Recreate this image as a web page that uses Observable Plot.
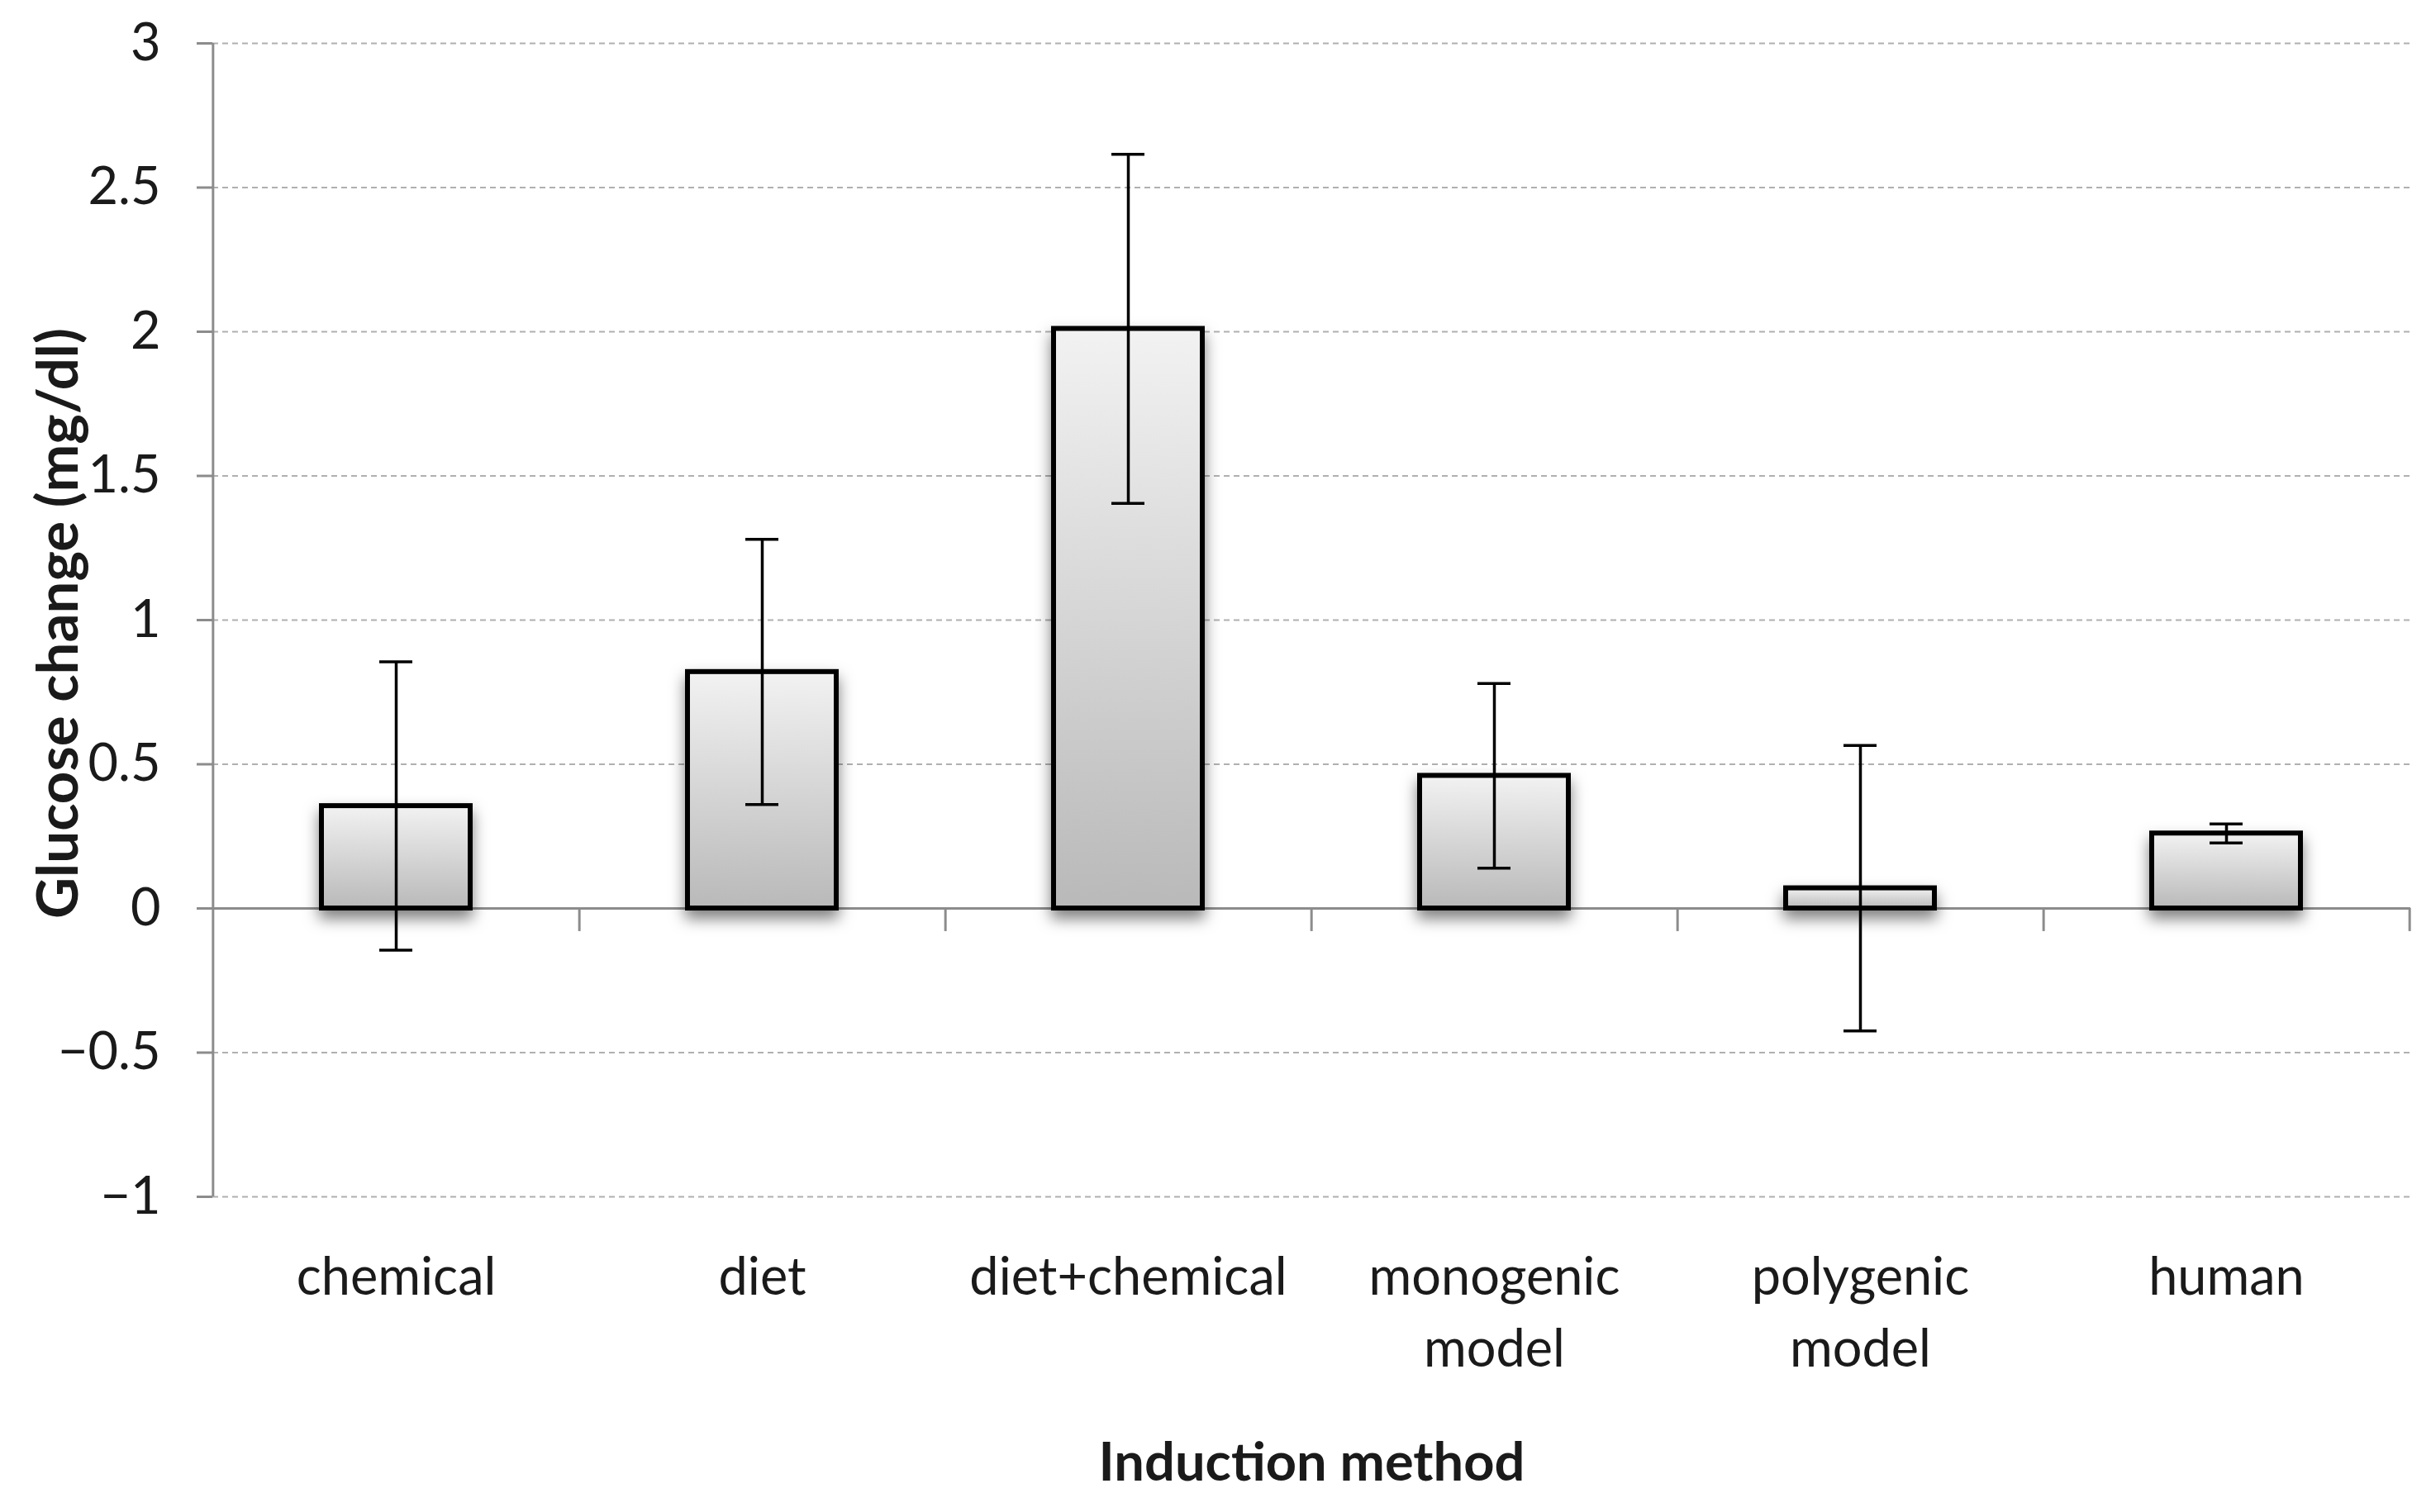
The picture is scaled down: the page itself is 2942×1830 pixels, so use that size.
<!DOCTYPE html>
<html>
<head>
<meta charset="utf-8">
<script src="https://cdn.jsdelivr.net/npm/d3@7"></script>
<script src="https://cdn.jsdelivr.net/npm/@observablehq/plot@0.6"></script>
<style>
  html, body { margin: 0; padding: 0; background: #fff; }
</style>
</head>
<body>
<div id="chart"></div>
<script>
const categories = ["chemical", "diet", "diet+chemical", "monogenic\nmodel", "polygenic\nmodel", "human"];
const means = [0.355, 0.82, 2.01, 0.46, 0.07, 0.26];
const errors = [0.50, 0.46, 0.605, 0.32, 0.495, 0.033];
const yTicks = [-1, -0.5, 0, 0.5, 1, 1.5, 2, 2.5, 3];

const data = categories.map((c, i) => ({cat: c, mean: means[i], lo: means[i] - errors[i], hi: means[i] + errors[i]}));

const W = 2942, H = 1830;
const ml = 257, mr = 25, mt = 52, mb = 382;
const step = (W - ml - mr) / categories.length;
const fmt = d => (d < 0 ? "\u2212" : "") + String(Math.abs(d));

const plot = Plot.plot({
  width: W,
  height: H,
  marginLeft: ml,
  marginRight: mr,
  marginTop: mt,
  marginBottom: mb,
  style: {fontFamily: "Lato, 'Noto Sans', sans-serif", background: "#fff", color: "#1a1a1a"},
  x: {domain: categories, paddingInner: 0.593, paddingOuter: 0.2965, axis: null},
  y: {domain: [-1, 3], axis: null},
  marks: [
    Plot.gridY(yTicks, {stroke: "#b0b0b0", strokeOpacity: 1, strokeWidth: 2, strokeDasharray: "7,5"}),
    Plot.axisY({ticks: yTicks, tickFormat: fmt, tickSize: 19, tickPadding: 44, stroke: "#8c8c8c", strokeWidth: 3, fill: "#1a1a1a", fontSize: 63, label: null}),
    Plot.ruleX([categories[0]], {x: d => d, dx: -step / 2, y1: -1, y2: 3, stroke: "#8c8c8c", strokeWidth: 3}),
    Plot.ruleY([0], {stroke: "#8c8c8c", strokeWidth: 3}),
    Plot.ruleX(categories, {x: d => d, dx: step / 2, y1: 0, y2: -0.08, stroke: "#8c8c8c", strokeWidth: 3}),
    Plot.barY(data, {x: "cat", y: "mean", fill: "url(#barGrad)", stroke: "#000", strokeWidth: 6}),
    Plot.ruleX(data, {x: "cat", y1: "lo", y2: "hi", stroke: "#000", strokeWidth: 3.5}),
    Plot.tickY(data, {x: "cat", y: "hi", stroke: "#000", strokeWidth: 3.5, insetLeft: 70, insetRight: 70}),
    Plot.tickY(data, {x: "cat", y: "lo", stroke: "#000", strokeWidth: 3.5, insetLeft: 70, insetRight: 70}),
    Plot.text(categories, {x: d => d, text: d => d, frameAnchor: "bottom", lineAnchor: "top", dy: 57, fontSize: 63, lineHeight: 1.38, fill: "#1a1a1a"}),
    Plot.text(["Induction method"], {frameAnchor: "bottom", lineAnchor: "middle", textAnchor: "middle", dy: 323, fontSize: 65, fontWeight: "bold", fill: "#1a1a1a"}),
    Plot.text(["Glucose change (mg/dl)"], {frameAnchor: "left", textAnchor: "middle", lineAnchor: "middle", dx: -186, dy: 4, rotate: -90, fontSize: 69, fontWeight: "bold", fill: "#1a1a1a"})
  ]
});

const ns = "http://www.w3.org/2000/svg";
const defs = document.createElementNS(ns, "defs");
defs.innerHTML = `
  <linearGradient id="barGrad" x1="0" y1="0" x2="0" y2="1">
    <stop offset="0" stop-color="#f2f2f2"/>
    <stop offset="1" stop-color="#b9b9b9"/>
  </linearGradient>
  <filter id="shadow" x="-20%" y="-20%" width="140%" height="160%">
    <feDropShadow dx="0" dy="10" stdDeviation="9" flood-color="#000" flood-opacity="0.5"/>
  </filter>`;
plot.insertBefore(defs, plot.firstChild);
const barG = plot.querySelector('g[aria-label="bar"]');
if (barG) barG.setAttribute("filter", "url(#shadow)");

document.getElementById("chart").appendChild(plot);
</script>
</body>
</html>
